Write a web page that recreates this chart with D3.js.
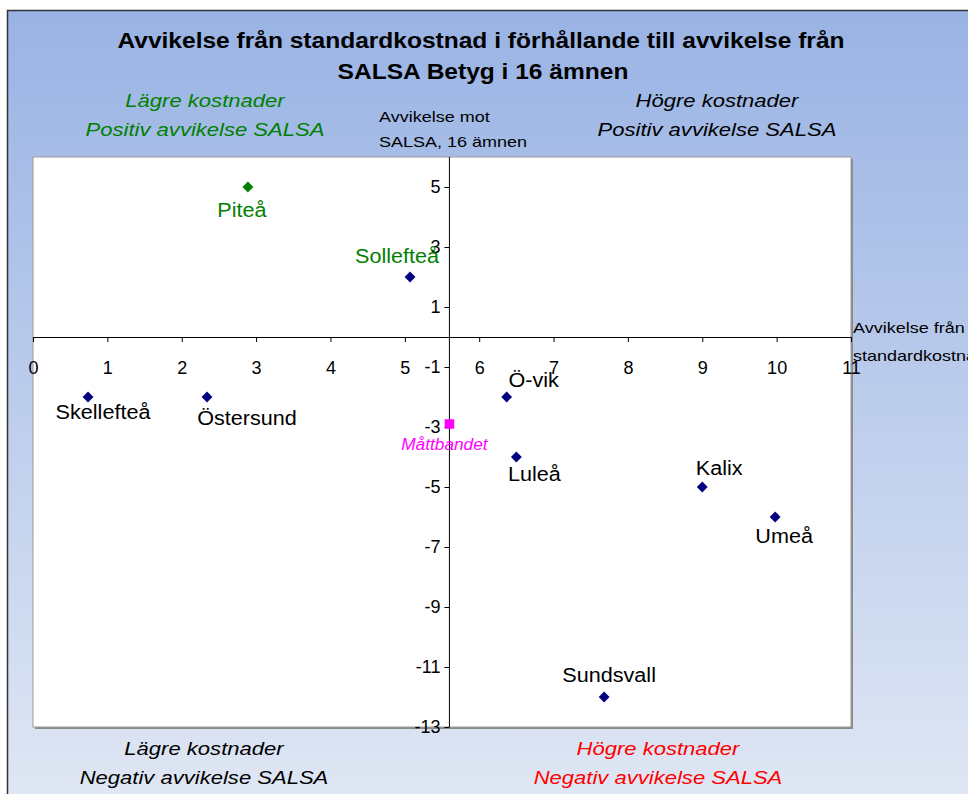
<!DOCTYPE html>
<html>
<head>
<meta charset="utf-8">
<script src="https://cdn.jsdelivr.net/npm/d3@7"></script>
<style>
body { margin:0; background:#fff; }
svg { display:block; font-family:"Liberation Sans", Arial, sans-serif; }
</style>
</head>
<body>
<script>
// data
var towns = ["Piteå","Sollefteå","Skellefteå","Östersund","Ö-vik","Måttbandet","Luleå","Kalix","Umeå","Sundsvall"];
var costDev = [2.89, 5.07, 0.74, 2.34, 6.37, 5.6, 6.5, 9.0, 9.98, 7.68];
var salsaDev = [5, 2, -2, -2, -2, -2.9, -4, -5, -6, -12];
var xTicks = [0,1,2,3,4,5,6,7,8,9,10,11];
var yTicks = [5,3,1,-1,-3,-5,-7,-9,-11,-13];
var yCross = 5.6; // y axis drawn at Måttbandet

// label placement around each marker
var labelPos = {
  "Piteå":[-6,30], "Sollefteå":[-13,-14], "Skellefteå":[15,22], "Östersund":[40,28],
  "Ö-vik":[27,-10], "Måttbandet":[-5,26], "Luleå":[18,24], "Kalix":[17,-12],
  "Umeå":[9,26], "Sundsvall":[5,-15]
};

var W = 968, H = 794;
var svg = d3.select("body").append("svg").attr("width", W).attr("height", H);

// the original was drawn with a wider text rendering; stretch text to match
function stretch(sel, k) {
  sel.each(function(){
    var w = this.getComputedTextLength();
    d3.select(this).attr("textLength", w * k).attr("lengthAdjust", "spacingAndGlyphs");
  });
}

var defs = svg.append("defs");
var grad = defs.append("linearGradient").attr("id","bg").attr("x1",0).attr("y1",0).attr("x2",0).attr("y2",1);
grad.append("stop").attr("offset","0%").attr("stop-color","#99b3e4");
grad.append("stop").attr("offset","100%").attr("stop-color","#e0e7f4");

// chart frame
svg.append("rect").attr("x",7.5).attr("y",10.5).attr("width",W).attr("height",H)
  .attr("fill","url(#bg)").attr("stroke","#333").attr("stroke-width",1.5);

var x = d3.scaleLinear().domain([0,11]).range([33,851]);
var y = d3.scaleLinear().domain([-13,6]).range([727,157]);

// plot area
svg.append("rect").attr("x",35).attr("y",159).attr("width",818).attr("height",570).attr("fill","#8a8a8a");
svg.append("rect").attr("x",33).attr("y",157).attr("width",818).attr("height",570)
  .attr("fill","#fff").attr("stroke","#9a9a9a").attr("stroke-width",1);

// title
var title = svg.append("text").attr("text-anchor","middle").attr("font-weight","bold")
  .attr("font-size",22).attr("fill","#000");
title.append("tspan").attr("x",481).attr("y",48).text("Avvikelse från standardkostnad i förhållande till avvikelse från");
title.append("tspan").attr("x",483).attr("y",79).text("SALSA Betyg i 16 ämnen");
stretch(title.selectAll("tspan"), 1.115);

// quadrant notes
function note(cx, y0, lines, col) {
  var t = svg.append("text").attr("text-anchor","middle").attr("font-style","italic")
    .attr("font-size",19).attr("fill",col);
  lines.forEach(function(s,i){ t.append("tspan").attr("x",cx).attr("y",y0+i*29).text(s); });
  stretch(t.selectAll("tspan"), 1.16);
}
note(205, 107, ["Lägre kostnader","Positiv avvikelse SALSA"], "#008000");
note(717, 107, ["Högre kostnader","Positiv avvikelse SALSA"], "#000");
note(204, 755, ["Lägre kostnader","Negativ avvikelse SALSA"], "#000");
note(658, 755, ["Högre kostnader","Negativ avvikelse SALSA"], "#ff0000");

// plain hyphen minus like the original
var fmt = function(d){ return String(d); };

// x axis at y=0
svg.append("g").attr("transform","translate(0," + y(0) + ")")
  .call(d3.axisBottom(x).tickValues(xTicks).tickSize(5).tickPadding(19).tickFormat(fmt))
  .call(function(g){
    g.select(".domain").attr("stroke","#000");
    g.selectAll("text").attr("font-size",18).attr("font-family","Liberation Sans, Arial");
  });

// y axis at yCross
svg.append("g").attr("transform","translate(" + x(yCross) + ",0)")
  .call(d3.axisLeft(y).tickValues(yTicks).tickSize(5).tickPadding(4).tickFormat(fmt))
  .call(function(g){
    g.select(".domain").attr("stroke","#000").attr("d","M-0,157V727");
    g.selectAll("text").attr("font-size",18).attr("font-family","Liberation Sans, Arial");
  });

// axis titles
var yt = svg.append("text").attr("font-size",15).attr("fill","#000");
yt.append("tspan").attr("x",379).attr("y",122).text("Avvikelse mot");
yt.append("tspan").attr("x",379).attr("y",147).text("SALSA, 16 ämnen");
stretch(yt.selectAll("tspan"), 1.2);
var xt = svg.append("text").attr("font-size",15).attr("fill","#000");
xt.append("tspan").attr("x",853).attr("y",333).text("Avvikelse från");
xt.append("tspan").attr("x",853).attr("y",361).text("standardkostnad");
stretch(xt.selectAll("tspan"), 1.2);

// points
var pts = towns.map(function(n,i){ return {name:n, cx:costDev[i], cy:salsaDev[i]}; });
var diamond = d3.symbol().type(d3.symbolDiamond2).size(75);
var square = d3.symbol().type(d3.symbolSquare).size(90);

svg.append("g").selectAll("path").data(pts).enter().append("path")
  .attr("transform", function(d){ return "translate(" + x(d.cx) + "," + y(d.cy) + ")"; })
  .attr("d", function(d){ return d.name === "Måttbandet" ? square() : diamond(); })
  .attr("fill", function(d){
    if (d.name === "Måttbandet") return "#ff00ff";
    if (d.name === "Piteå") return "#008000";
    return "#000080";
  });

var labels = svg.append("g").selectAll("text").data(pts).enter().append("text")
  .attr("x", function(d){ return x(d.cx) + labelPos[d.name][0]; })
  .attr("y", function(d){ return y(d.cy) + labelPos[d.name][1]; })
  .attr("text-anchor","middle")
  .attr("font-size", function(d){ return d.name === "Måttbandet" ? 16 : 20; })
  .attr("font-style", function(d){ return d.name === "Måttbandet" ? "italic" : null; })
  .attr("fill", function(d){
    if (d.name === "Måttbandet") return "#ff00ff";
    if (d.name === "Piteå" || d.name === "Sollefteå") return "#008000";
    return "#000";
  })
  .text(function(d){ return d.name; });
stretch(labels, 1.08);
</script>
</body>
</html>
